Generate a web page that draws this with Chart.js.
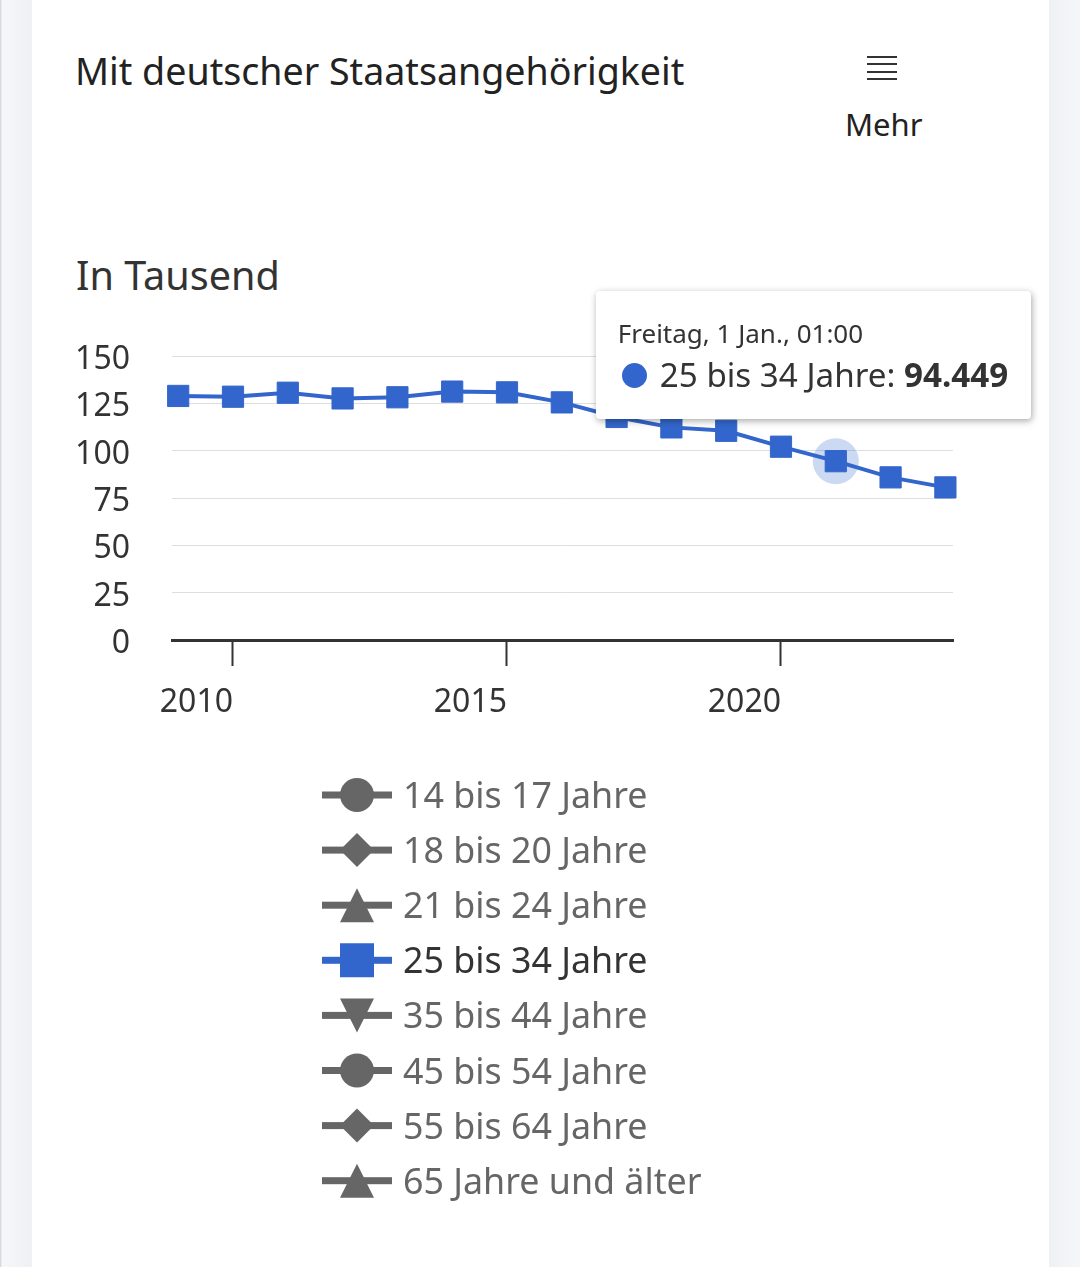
<!DOCTYPE html>
<html lang="de">
<head>
<meta charset="utf-8">
<title>Mit deutscher Staatsangehörigkeit</title>
<script src="https://cdn.jsdelivr.net/npm/chart.js@4.4.1/dist/chart.umd.min.js"></script>
<style>
  html, body { margin: 0; padding: 0; }
  body {
    width: 1080px; height: 1267px; position: relative; overflow: hidden;
    background: #eef0f3; font-family: "Noto Sans", sans-serif; color: #333;
  }
  .side-l { position: absolute; left: 0; top: 0; width: 32px; height: 100%;
    background: linear-gradient(90deg, #d9dbde 0, #d9dbde 1px, #f6f7f9 2px, #eef0f3 32px); }
  .side-r { position: absolute; left: 1049px; top: 0; width: 31px; height: 100%;
    background: linear-gradient(90deg, #eef0f3, #f6f7f9); }
  .card { position: absolute; left: 32px; top: 0; width: 1017px; height: 100%; background: #fff; }
  .txt { position: absolute; white-space: nowrap; }
  #title { left: 75px; top: 52px; font-size: 37.6px; line-height: 37px; color: #222; }
  #mehr { left: 845px; top: 109px; font-size: 31px; line-height: 31px; color: #222; }
  #unit { left: 76px; top: 256px; font-size: 39.6px; line-height: 39px; color: #333; }
  .burger { position: absolute; left: 867px; width: 30px; height: 2px; background: #333; }
  #chart { position: absolute; left: 0; top: 0; }
  #tip {
    position: absolute; display: none; background: #fff; border-radius: 4px;
    box-shadow: 1px 2px 7px rgba(0,0,0,0.35); padding: 29px 23px 28px 22px; color: #333;
    white-space: nowrap; z-index: 5;
  }
  #tip .t1 { font-size: 26px; line-height: 26px; }
  #tip .t2 { font-size: 33.2px; line-height: 33px; margin-top: 12px; }
  #tip .dot { display: inline-block; width: 25px; height: 25px; border-radius: 50%;
    margin: 0 13px 0 4px; vertical-align: -1px; }
  #tip b { font-weight: 700; }
</style>
</head>
<body>
<div class="side-l"></div>
<div class="card"></div>
<div class="side-r"></div>

<div id="title" class="txt">Mit deutscher Staatsangehörigkeit</div>
<div class="burger" style="top:56px"></div>
<div class="burger" style="top:63px"></div>
<div class="burger" style="top:71px"></div>
<div class="burger" style="top:78px"></div>
<div id="mehr" class="txt">Mehr</div>
<div id="unit" class="txt">In Tausend</div>

<canvas id="chart" width="1080" height="1267"></canvas>
<div id="tip"><div class="t1"></div><div class="t2"><span class="dot"></span><span class="lbl"></span><b class="val"></b></div></div>

<script>
// data (in thousand)
const years = [2009, 2010, 2011, 2012, 2013, 2014, 2015, 2016, 2017, 2018, 2019, 2020, 2021, 2022, 2023];
const values25to34 = [128.9, 128.5, 130.6, 127.6, 128.2, 131.2, 130.8, 125.5, 117.8, 112.3, 110.5, 102.1, 94.449, 85.9, 80.6];

const seriesNames = ['14 bis 17 Jahre', '18 bis 20 Jahre', '21 bis 24 Jahre', '25 bis 34 Jahre',
  '35 bis 44 Jahre', '45 bis 54 Jahre', '55 bis 64 Jahre', '65 Jahre und älter'];
const seriesMarkers = ['circle', 'diamond', 'triangle', 'square', 'triangle-down', 'circle', 'diamond', 'triangle'];
const visibleSeries = '25 bis 34 Jahre';
const xTickYears = [2010, 2015, 2020];
const yTickStep = 25;
const yMax = 150;

const weekdays = ['Sonntag', 'Montag', 'Dienstag', 'Mittwoch', 'Donnerstag', 'Freitag', 'Samstag'];

const BLUE = '#3366cc';
const GREY = '#666666';

function pointStyleFor(marker) {
    if (marker === 'diamond') return 'rectRot';
    if (marker === 'square') return 'rect';
    if (marker === 'triangle' || marker === 'triangle-down') return 'triangle';
    return 'circle';
}

const datasets = seriesNames.map((name, i) => {
    const shown = name === visibleSeries;
    const col = shown ? BLUE : GREY;
    return {
        label: name,
        marker: seriesMarkers[i],
        hidden: !shown,
        data: shown ? years.map((y, k) => ({ x: y, y: values25to34[k] })) : [],
        borderColor: col,
        backgroundColor: col,
        pointHoverBackgroundColor: col,
        pointHoverBorderColor: col,
        borderWidth: 4,
        pointStyle: pointStyleFor(seriesMarkers[i]),
        pointRotation: seriesMarkers[i] === 'triangle-down' ? 180 : 0,
        pointRadius: 15,
        pointHoverRadius: 15,
        pointBorderWidth: 1,
        pointHoverBorderWidth: 1,
        clip: false,
        tension: 0
    };
});

// light halo behind the hovered point
const haloPlugin = {
    id: 'halo',
    beforeDatasetsDraw(chart) {
        const ctx = chart.ctx;
        chart.getActiveElements().forEach(a => {
            ctx.save();
            ctx.beginPath();
            ctx.arc(a.element.x, a.element.y, 23, 0, Math.PI * 2);
            ctx.fillStyle = 'rgba(51,102,204,0.25)';
            ctx.fill();
            ctx.restore();
        });
    }
};

// legend below the chart: line with marker, then the name
function drawMarker(ctx, marker, x, y, s) {
    const h = s / 2;
    ctx.beginPath();
    if (marker === 'circle') {
        ctx.arc(x, y, h, 0, Math.PI * 2);
    } else if (marker === 'diamond') {
        ctx.moveTo(x, y - h); ctx.lineTo(x + h, y); ctx.lineTo(x, y + h); ctx.lineTo(x - h, y);
    } else if (marker === 'triangle') {
        ctx.moveTo(x, y - h); ctx.lineTo(x + h, y + h); ctx.lineTo(x - h, y + h);
    } else if (marker === 'triangle-down') {
        ctx.moveTo(x - h, y - h); ctx.lineTo(x + h, y - h); ctx.lineTo(x, y + h);
    } else {
        ctx.rect(x - h, y - h, s, s);
    }
    ctx.closePath();
    ctx.fill();
}

const legendPlugin = {
    id: 'bottomLegend',
    afterDraw(chart, args, opts) {
        const ctx = chart.ctx;
        ctx.save();
        chart.data.datasets.forEach((ds, i) => {
            const cy = opts.top + i * opts.step;
            const visible = chart.isDatasetVisible(i);
            const col = visible ? BLUE : GREY;
            ctx.fillStyle = col;
            ctx.fillRect(opts.left, cy - 3.5, 70, 7);
            drawMarker(ctx, ds.marker, opts.left + 35, cy, 34);
            ctx.font = '35.8px "Noto Sans"';
            ctx.fillStyle = visible ? '#333' : '#666';
            ctx.textAlign = 'left';
            ctx.textBaseline = 'alphabetic';
            ctx.fillText(ds.label, opts.left + 81, cy + 13);
        });
        ctx.restore();
    }
};

function showTooltip({ chart, tooltip }) {
    const el = document.getElementById('tip');
    if (tooltip.opacity === 0 || !tooltip.dataPoints || !tooltip.dataPoints.length) {
        el.style.display = 'none';
        return;
    }
    const item = tooltip.dataPoints[0];
    el.querySelector('.t1').textContent = tooltip.title.join(' ');
    el.querySelector('.lbl').textContent = item.dataset.label + ': ';
    el.querySelector('.val').textContent = item.parsed.y.toFixed(3);
    el.querySelector('.dot').style.background = item.dataset.borderColor;
    el.style.display = 'block';
    el.style.left = (chart.canvas.offsetLeft + tooltip.caretX - 240) + 'px';
    el.style.top = (chart.canvas.offsetTop + tooltip.caretY - 170) + 'px';
}

const chart = new Chart(document.getElementById('chart'), {
    type: 'line',
    data: { datasets: datasets },
    plugins: [haloPlugin, legendPlugin],
    options: {
        responsive: false,
        animation: false,
        events: [],
        layout: { padding: { left: 0, top: 356, right: 127, bottom: 527 } },
        scales: {
            x: {
                type: 'linear',
                min: 2008.887,
                max: 2023.139,
                afterBuildTicks: s => { s.ticks = xTickYears.map(v => ({ value: v })); },
                afterFit: s => { s.height = 100; },
                grid: { drawOnChartArea: false, drawTicks: true, tickLength: 26, tickWidth: 2, tickColor: '#333' },
                border: { display: true, color: '#333', width: 3 },
                ticks: {
                    align: 'end',
                    padding: 18,
                    maxRotation: 0,
                    color: '#333',
                    font: { family: 'Noto Sans', size: 32 },
                    callback: v => String(v)
                }
            },
            y: {
                min: 0,
                max: yMax,
                afterFit: s => { s.width = 172; },
                grid: { color: '#dedede', lineWidth: 1, drawTicks: false },
                border: { display: false },
                ticks: {
                    stepSize: yTickStep,
                    padding: 42,
                    labelOffset: 4,
                    color: '#333',
                    font: { family: 'Noto Sans', size: 32 }
                }
            }
        },
        plugins: {
            legend: { display: false },
            bottomLegend: { left: 322, top: 795, step: 55.1 },
            tooltip: {
                enabled: false,
                external: showTooltip,
                callbacks: {
                    title: items => {
                        const year = items[0].parsed.x;
                        const wd = weekdays[new Date(Date.UTC(year, 0, 1)).getUTCDay()];
                        return wd + ', 1 Jan., 01:00';
                    }
                }
            }
        }
    }
});

// reproduce the hovered 2021 point
const activeIdx = years.indexOf(2021);
const activeDs = seriesNames.indexOf(visibleSeries);
chart.setActiveElements([{ datasetIndex: activeDs, index: activeIdx }]);
chart.tooltip.setActiveElements([{ datasetIndex: activeDs, index: activeIdx }], { x: 0, y: 0 });
chart.update();
</script>
</body>
</html>
